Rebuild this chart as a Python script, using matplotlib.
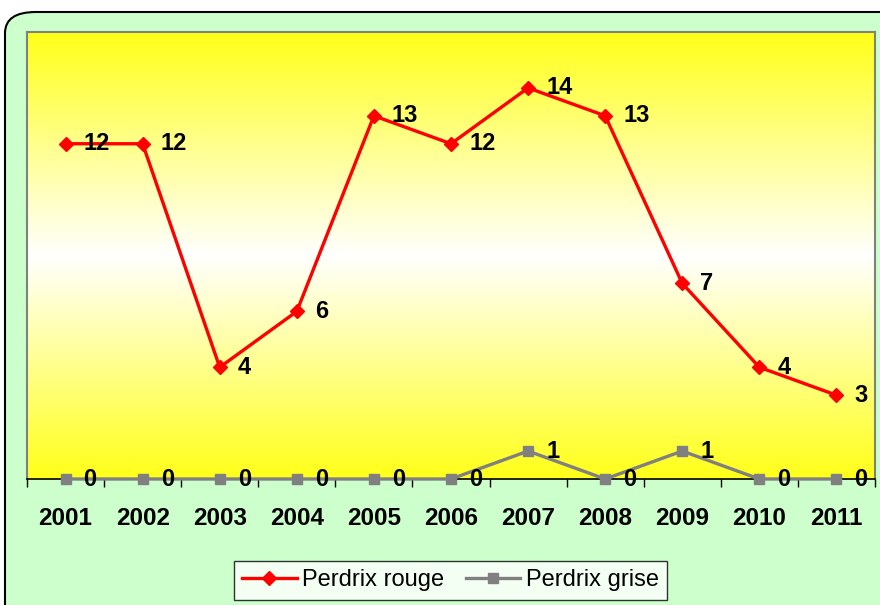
import matplotlib
matplotlib.use("Agg")
import matplotlib.pyplot as plt
import numpy as np
from matplotlib.patches import FancyBboxPatch
from matplotlib.colors import LinearSegmentedColormap

years = ["2001", "2002", "2003", "2004", "2005", "2006", "2007", "2008", "2009", "2010", "2011"]
perdrix_rouge = [12, 12, 4, 6, 13, 12, 14, 13, 7, 4, 3]
perdrix_grise = [0, 0, 0, 0, 0, 0, 1, 0, 1, 0, 0]

plt.rcParams['font.family'] = ['Liberation Sans', 'DejaVu Sans']

W, H = 880, 605
fig = plt.figure(figsize=(W / 100, H / 100), dpi=100)
fig.patch.set_facecolor("white")

# green rounded frame
frame = FancyBboxPatch((5 / W, -40 / H), (W + 40) / W, (H - 12 + 40) / H,
                       boxstyle="round,pad=0,rounding_size=0.035",
                       transform=fig.transFigure, facecolor="#CCFFCC",
                       edgecolor="black", linewidth=1.5, zorder=0)
fig.patches.append(frame)

ax = fig.add_axes([27 / W, 1 - 479 / H, (875 - 27) / W, (479 - 32) / H])
ax.set_zorder(2)

x = np.arange(len(years))
ax.set_xlim(-0.5, len(years) - 0.5)
ax.set_ylim(0, 16)

# gradient background yellow-white-yellow
cmap = LinearSegmentedColormap.from_list("yw", ["#FFFF19", "#FFFFFF", "#FFFF19"])
grad = np.linspace(0, 1, 256).reshape(-1, 1)
ax.imshow(grad, aspect="auto", cmap=cmap, extent=(-0.5, len(years) - 0.5, 0, 16),
          origin="lower", zorder=0)

ax.plot(x, perdrix_rouge, color="#FF0000", linewidth=2.4, marker="D", markersize=7.5,
        label="Perdrix rouge", zorder=4, clip_on=False)
ax.plot(x, perdrix_grise, color="#808080", linewidth=2.4, marker="s", markersize=7.5,
        label="Perdrix grise", zorder=3, clip_on=False)

for xi, v in zip(x, perdrix_rouge):
    ax.annotate(str(v), (xi, v), xytext=(13, 0), textcoords="offset points",
                ha="left", va="center", fontsize=17, fontweight="bold", zorder=5)
for xi, v in zip(x, perdrix_grise):
    ax.annotate(str(v), (xi, v), xytext=(13, 0), textcoords="offset points",
                ha="left", va="center", fontsize=17, fontweight="bold", zorder=5,
                annotation_clip=False)

ax.set_yticks([])
ax.set_xticks(x)
ax.set_xticklabels(years, fontsize=17.5, fontweight="bold")
ax.set_xticks(np.arange(-0.5, len(years), 1), minor=True)
ax.tick_params(axis="x", which="major", length=0, pad=20)
ax.tick_params(axis="x", which="minor", length=6, width=1, color="black")
for s in ["left", "top", "right"]:
    ax.spines[s].set_color("#808080")
    ax.spines[s].set_linewidth(1.5)
ax.spines["bottom"].set_color("black")
ax.spines["bottom"].set_linewidth(1.2)
ax.spines["bottom"].set_zorder(2.5)

leg = fig.legend(loc="upper left", bbox_to_anchor=(234 / W, 1 - 561 / H), ncol=2,
                 fontsize=17, frameon=True, fancybox=False, edgecolor="black",
                 handlelength=2.3, handletextpad=0.25, columnspacing=0.9,
                 borderpad=0.35, borderaxespad=0)
leg.get_frame().set_linewidth(1.0)
leg.get_frame().set_facecolor("white")

fig.savefig("out.png", dpi=100)
